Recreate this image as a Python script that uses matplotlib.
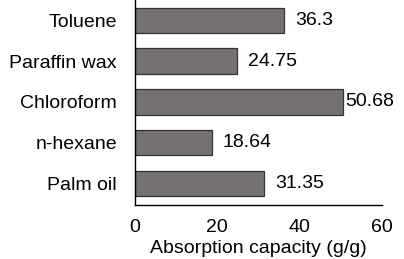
import matplotlib.pyplot as plt

# absorbates, listed bottom to top
labels = ['Palm oil', 'n-hexane', 'Chloroform', 'Paraffin wax', 'Toluene']
values = [31.35, 18.64, 50.68, 24.75, 36.3]
value_text = ['31.35', '18.64', '50.68', '24.75', '36.3']
xticks = [0, 20, 40, 60]

plt.rcParams['font.family'] = ['Liberation Sans', 'DejaVu Sans']

fig = plt.figure(figsize=(4.04, 2.59), dpi=100)
ax = fig.add_axes([0.334, 0.2085, 0.611, 0.7915])

pos = range(len(labels))
ax.barh(pos, values, height=0.62, color='#767171', edgecolor='#333333', linewidth=0.9)

# value labels to the right of each bar (largest one sits tight to the bar)
for p, v, t in zip(pos, values, value_text):
    pad = 1.5 if v == max(values) else 8
    ax.annotate(t, (v, p), xytext=(pad, 0), textcoords='offset points',
                ha='left', va='center', fontsize=14)

ax.set_xlim(0, 60)
ax.set_ylim(-0.53, 4.5)
ax.set_xticks(xticks)
ax.set_yticks(list(pos))
ax.set_yticklabels(labels)
ax.tick_params(axis='y', length=0, labelsize=14, pad=13)
ax.tick_params(axis='x', length=0, labelsize=14, pad=10)
ax.set_xlabel('Absorption capacity (g/g)', fontsize=14, va='top')
ax.xaxis.set_label_coords(0.5, -0.17)

for s in ['top', 'right']:
    ax.spines[s].set_visible(False)
ax.spines['left'].set_linewidth(1.0)
ax.spines['bottom'].set_linewidth(1.0)

fig.savefig('out.png', dpi=100)
